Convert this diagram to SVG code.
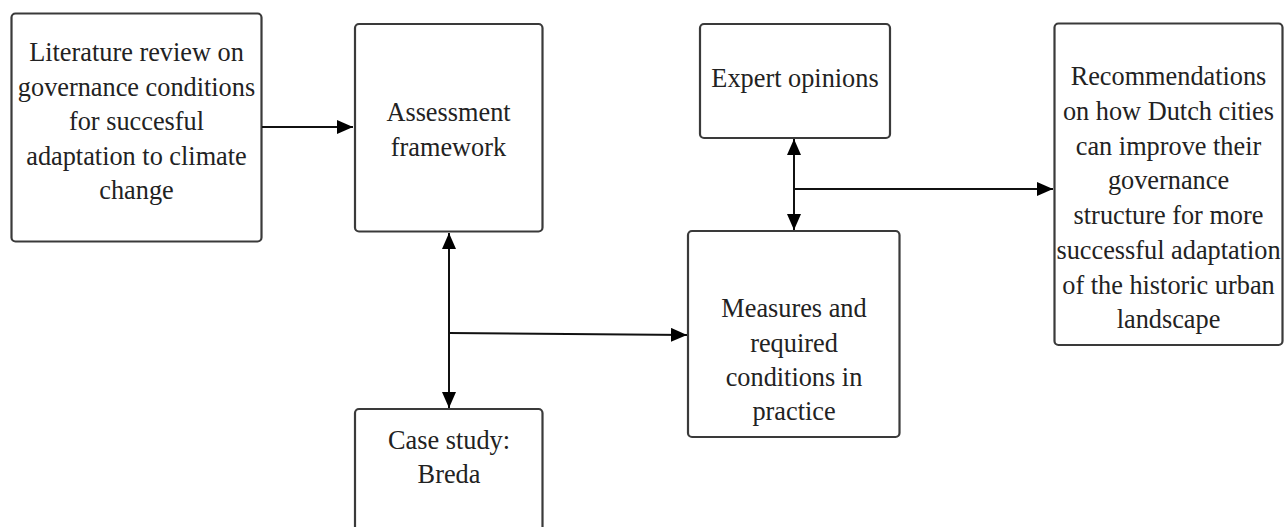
<svg xmlns="http://www.w3.org/2000/svg" width="1284" height="527" viewBox="0 0 1284 527">
<style>
.box{fill:#fff;stroke:#3a3a3a;stroke-width:2.2}
.t{font-family:'Liberation Serif','DejaVu Serif',serif;font-size:26.3px;fill:#222;text-anchor:middle}
.c{stroke:#111;stroke-width:2;fill:none}
</style>
<defs>
<marker id="ah" markerUnits="userSpaceOnUse" markerWidth="18" markerHeight="14" refX="16" refY="7" orient="auto-start-reverse">
<path d="M0,0 L16,7 L0,14 Z" fill="#000"/>
</marker>
</defs>
<rect width="1284" height="527" fill="#fff"/>
<g id="lit">
<rect class="box" x="11.5" y="13.5" width="250" height="228" rx="4"/>
<text class="t" x="136.5" y="61">Literature review on</text>
<text class="t" x="136.5" y="95.5">governance conditions</text>
<text class="t" x="136.5" y="130">for succesful</text>
<text class="t" x="136.5" y="164.5">adaptation to climate</text>
<text class="t" x="136.5" y="199">change</text>
</g>
<g id="assess">
<rect class="box" x="355" y="24" width="187.5" height="207.5" rx="4"/>
<text class="t" x="448.5" y="121">Assessment</text>
<text class="t" x="448.5" y="155.5">framework</text>
</g>
<g id="case">
<rect class="box" x="355" y="409" width="187.5" height="140" rx="4"/>
<text class="t" x="449" y="449">Case study:</text>
<text class="t" x="449" y="483">Breda</text>
</g>
<g id="expert">
<rect class="box" x="700" y="24" width="190" height="114" rx="4"/>
<text class="t" x="795" y="87">Expert opinions</text>
</g>
<g id="measures">
<rect class="box" x="688" y="231" width="211.5" height="206" rx="4"/>
<text class="t" x="794" y="317">Measures and</text>
<text class="t" x="794" y="351.5">required</text>
<text class="t" x="794" y="386">conditions in</text>
<text class="t" x="794" y="420">practice</text>
</g>
<g id="recs">
<rect class="box" x="1054.5" y="23.5" width="228" height="321.5" rx="4"/>
<text class="t" x="1168.5" y="85">Recommendations</text>
<text class="t" x="1168.5" y="120">on how Dutch cities</text>
<text class="t" x="1168.5" y="154.5">can improve their</text>
<text class="t" x="1168.5" y="189">governance</text>
<text class="t" x="1168.5" y="224">structure for more</text>
<text class="t" x="1168.5" y="259">successful adaptation</text>
<text class="t" x="1168.5" y="293.5">of the historic urban</text>
<text class="t" x="1168.5" y="328">landscape</text>
</g>
<g id="connectors">
<line class="c" x1="262" y1="127" x2="353" y2="127" marker-end="url(#ah)"/>
<line class="c" x1="449" y1="233" x2="449" y2="408" marker-start="url(#ah)" marker-end="url(#ah)"/>
<line class="c" x1="449" y1="333" x2="687" y2="335" marker-end="url(#ah)"/>
<line class="c" x1="794" y1="139" x2="794" y2="230" marker-start="url(#ah)" marker-end="url(#ah)"/>
<line class="c" x1="794" y1="189" x2="1053" y2="189" marker-end="url(#ah)"/>
</g>
</svg>
